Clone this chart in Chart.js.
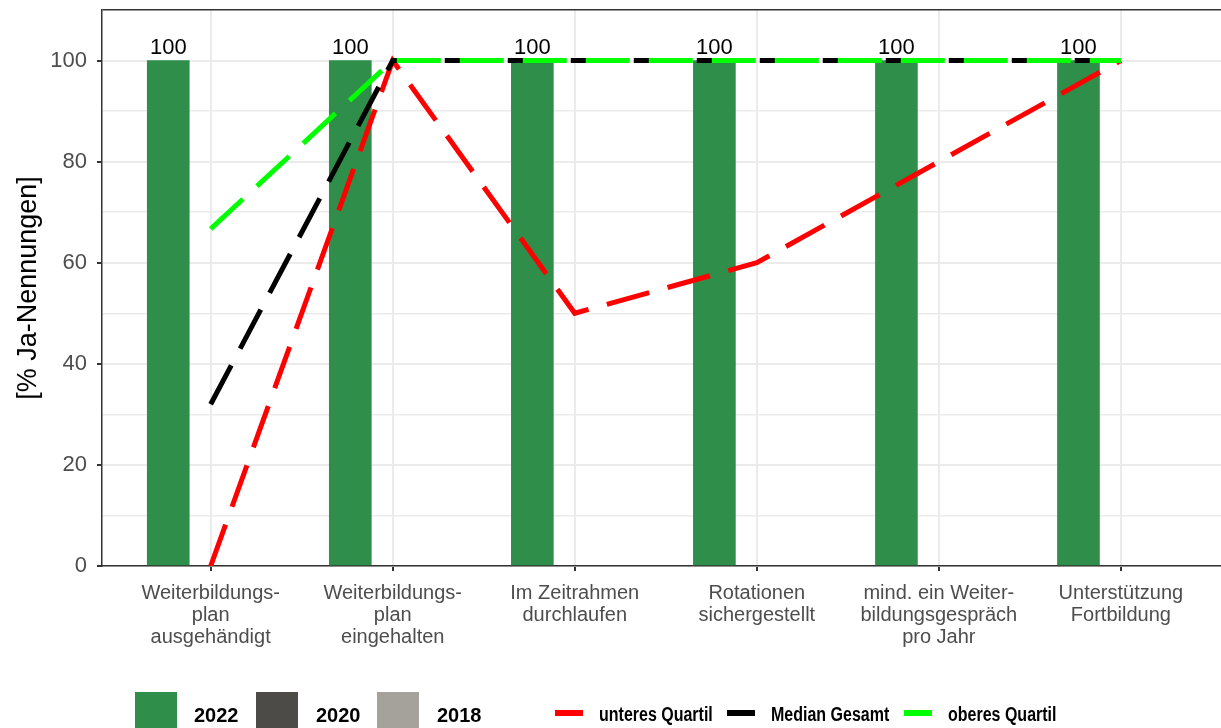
<!DOCTYPE html>
<html>
<head>
<meta charset="utf-8">
<script src="https://cdn.jsdelivr.net/npm/chart.js@4.4.1/dist/chart.umd.min.js"></script>
<style>
html, body { margin: 0; padding: 0; background: #fff; overflow: hidden; }
#wrap { position: relative; width: 1221px; height: 728px; }
.key { position: absolute; }
.lbl { position: absolute; font: bold 20px 'Liberation Sans', Arial, sans-serif; color: #000; line-height: 20px; white-space: nowrap; }
.narrow { transform: scaleX(0.8); transform-origin: left center; }
</style>
</head>
<body>
<div id="wrap">
  <canvas id="c" width="1221" height="728"></canvas>
  <div id="legend"></div>
</div>
<script>
// categories (x axis), line breaks as in the original
const categories = [
  ["Weiterbildungs-", "plan", "ausgehändigt"],
  ["Weiterbildungs-", "plan", "eingehalten"],
  ["Im Zeitrahmen", "durchlaufen"],
  ["Rotationen", "sichergestellt"],
  ["mind. ein Weiter-", "bildungsgespräch", "pro Jahr"],
  ["Unterstützung", "Fortbildung"]
];

// bars (% Ja-Nennungen)
const years = ["2022", "2020", "2018"];
const values2022 = [100, 100, 100, 100, 100, 100];
const values2020 = [null, null, null, null, null, null];
const values2018 = [null, null, null, null, null, null];

// reference lines
const lineNames = ["unteres Quartil", "Median Gesamt", "oberes Quartil"];
const lowerQuartile = [0, 100, 50, 60, 80, 100];
const median = [32, 100, 100, 100, 100, 100];
const upperQuartile = [66.7, 100, 100, 100, 100, 100];

const yTicks = [0, 10, 20, 30, 40, 50, 60, 70, 80, 90, 100, 110];

const barColors = ["#2E8E4A", "#4D4B47", "#A5A29C"];
const lineColors = ["#FF0000", "#000000", "#00FF00"];
const FONT = "'Liberation Sans', Arial, sans-serif";
const dodge = 0.233;

function barSet(label, vals, color, k) {
  return {
    type: "bar",
    label: label,
    data: vals.map((v, i) => ({ x: i + (k - 1) * dodge, y: v })),
    backgroundColor: color,
    barThickness: 42,
    grouped: false,
    order: 4
  };
}

function lineSet(label, vals, color, order) {
  return {
    type: "line",
    label: label,
    data: vals.map((v, i) => ({ x: i, y: v })),
    borderColor: color,
    borderWidth: 5,
    borderDash: [44, 19],
    pointRadius: 0,
    tension: 0,
    fill: false,
    order: order
  };
}

const barLabels = {
  id: "barLabels",
  afterDatasetsDraw(chart) {
    const ctx = chart.ctx;
    chart.data.datasets.forEach((ds, di) => {
      if (ds.type !== "bar") return;
      const meta = chart.getDatasetMeta(di);
      meta.data.forEach((el, i) => {
        const v = ds.data[i].y;
        if (v == null) return;
        ctx.save();
        ctx.font = "22px " + FONT;
        ctx.fillStyle = "#000";
        ctx.textAlign = "center";
        ctx.textBaseline = "alphabetic";
        ctx.fillText(String(v), el.x, el.y - 7);
        ctx.restore();
      });
    });
  }
};

const chart = new Chart(document.getElementById("c"), {
  data: {
    datasets: [
      lineSet(lineNames[0], lowerQuartile, lineColors[0], 3),
      lineSet(lineNames[1], median, lineColors[1], 2),
      lineSet(lineNames[2], upperQuartile, lineColors[2], 1),
      barSet(years[0], values2022, barColors[0], 0),
      barSet(years[1], values2020, barColors[1], 1),
      barSet(years[2], values2018, barColors[2], 2)
    ]
  },
  options: {
    responsive: false,
    animation: false,
    devicePixelRatio: 1,
    layout: { padding: { top: 10, right: 0, bottom: 0, left: 0 } },
    plugins: { legend: { display: false }, tooltip: { enabled: false } },
    scales: {
      x: {
        type: "linear",
        min: -0.597,
        max: 5.55,
        offset: false,
        afterBuildTicks: s => { s.ticks = categories.map((c, i) => ({ value: i })); },
        afterFit: s => { s.height = 162; s.paddingLeft = 0; s.paddingRight = 0; },
        grid: { offset: false, color: "#EBEBEB", lineWidth: 2, tickColor: "#333", tickLength: 5 },
        border: { color: "#333", width: 1.5 },
        ticks: {
          color: "#4D4D4D",
          font: { family: FONT, size: 20, lineHeight: 1.08 },
          padding: 12,
          autoSkip: false,
          maxRotation: 0,
          callback: v => categories[v]
        }
      },
      y: {
        min: 0,
        max: 110,
        afterBuildTicks: s => { s.ticks = yTicks.map(v => ({ value: v })); },
        afterFit: s => { s.width = 102; s.paddingTop = 0; s.paddingBottom = 0; },
        grid: {
          color: c => c.tick.value === 110 ? "#333" : "#EBEBEB",
          lineWidth: c => c.tick.value === 110 ? 1.5 : (c.tick.value % 20 === 0 ? 2 : 1.5),
          tickColor: c => (c.tick.value % 20 === 0 && c.tick.value <= 100) ? "#333" : "rgba(0,0,0,0)",
          tickLength: 5
        },
        border: { color: "#333", width: 1.5 },
        ticks: {
          color: "#4D4D4D",
          font: { family: FONT, size: 22 },
          padding: 10,
          callback: v => (v % 20 === 0 && v <= 100) ? v : ""
        },
        title: {
          display: true,
          text: "[% Ja-Nennungen]",
          color: "#000",
          font: { family: FONT, size: 27 },
          padding: { top: 12, bottom: 0 }
        }
      }
    }
  },
  plugins: [barLabels]
});

// legend below the plot
const legend = document.getElementById("legend");
const yearKeyX = [135, 256, 377];
const yearTextX = [194, 316, 437];
years.forEach((y, i) => {
  const k = document.createElement("div");
  k.className = "key";
  k.style.cssText = `left:${yearKeyX[i]}px;top:692px;width:42px;height:42px;background:${barColors[i]}`;
  legend.appendChild(k);
  const t = document.createElement("div");
  t.className = "lbl";
  t.style.cssText = `left:${yearTextX[i]}px;top:705px`;
  t.textContent = y;
  legend.appendChild(t);
});
const lineKeyX = [555, 727, 904];
const lineTextX = [599, 771, 948];
lineNames.forEach((n, i) => {
  const k = document.createElement("div");
  k.className = "key";
  k.style.cssText = `left:${lineKeyX[i]}px;top:710px;width:28px;height:6px;background:${lineColors[i]}`;
  legend.appendChild(k);
  const t = document.createElement("div");
  t.className = "lbl narrow";
  t.style.cssText = `left:${lineTextX[i]}px;top:704px`;
  t.textContent = n;
  legend.appendChild(t);
});
</script>
</body>
</html>
